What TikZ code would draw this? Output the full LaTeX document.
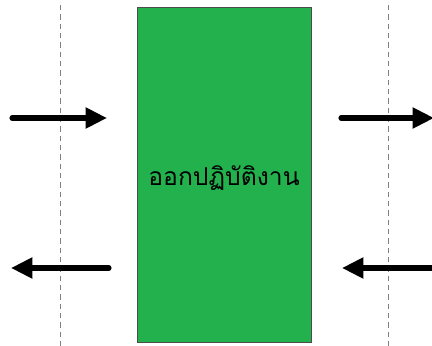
\documentclass[tikz,border=0pt]{standalone}
\usepackage{fontspec}
\newfontfamily\thaifont[Script=Thai]{Loma}
\usetikzlibrary{arrows.meta}
\definecolor{boxgreen}{HTML}{22B14C}
\tikzset{
    flow/.style={line width=3.8pt, line cap=round, -{Triangle[length=16pt,width=15pt]}},
    border/.style={gray, dash pattern=on 4pt off 3pt, line width=0.7pt},
}
\begin{document}
\begin{tikzpicture}[x=0.75pt,y=-0.75pt]
        \useasboundingbox (0,0) rectangle (432,346);
        %\draw[gray] (0,0) grid (432,346);

        \draw[border] (60,5) -- (60,346) (388,5) -- (388,346);

        \node[draw=black!70, fill=boxgreen, minimum width=130.5pt, minimum height=251pt, inner sep=0pt] (work) at (224,174.5) {};
        \node[font=\thaifont\fontsize{18.5}{22}\selectfont] (label) at (224,178) {ออกปฏิบัติงาน};

        \coordinate (inL) at (12,118); \coordinate (inLend) at (107,118);
        \coordinate (inR) at (341,118); \coordinate (inRend) at (434,118);
        \coordinate (outL) at (109,268); \coordinate (outLend) at (11,268);
        \coordinate (outR) at (434,268); \coordinate (outRend) at (342,268);

        \draw[flow] (inL) -- (inLend);
        \draw[flow] (inR) -- (inRend);
        \draw[flow] (outL) -- (outLend);
        \draw[flow] (outR) -- (outRend);
    \end{tikzpicture}
\end{document}
